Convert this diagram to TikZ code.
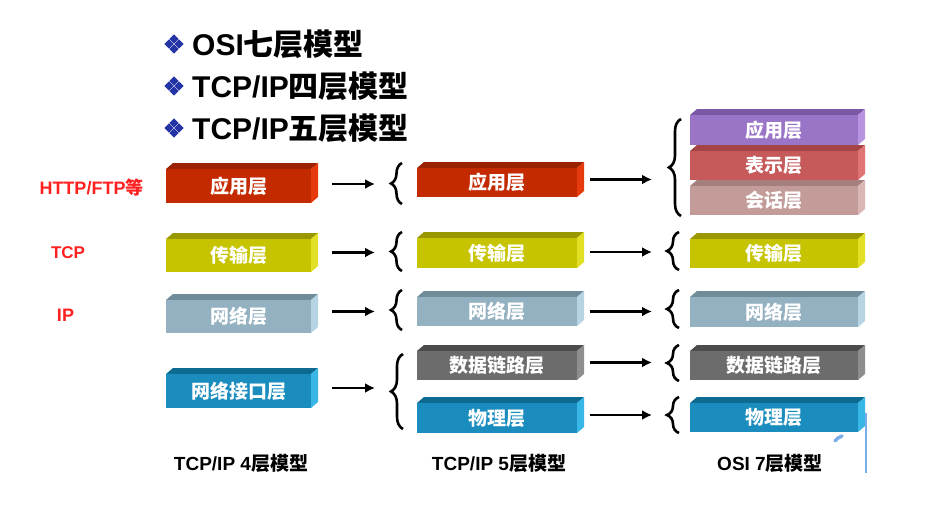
\documentclass[tikz,border=0pt]{standalone}
\usepackage{fontspec}
\setmainfont{Liberation Sans}
\newfontfamily\cjk{Noto Sans CJK SC}
\usetikzlibrary{decorations.pathreplacing,arrows.meta}

\definecolor{appF}{HTML}{C42A00}\definecolor{appT}{HTML}{9A2200}\definecolor{appS}{HTML}{E63A0C}
\definecolor{trF}{HTML}{C6C400}\definecolor{trT}{HTML}{9A9800}\definecolor{trS}{HTML}{E2E024}
\definecolor{netF}{HTML}{93B1C1}\definecolor{netT}{HTML}{6F8C9A}\definecolor{netS}{HTML}{B6D4E4}
\definecolor{ifF}{HTML}{1A8DBE}\definecolor{ifT}{HTML}{0D6A90}\definecolor{ifS}{HTML}{38B6E6}
\definecolor{dlF}{HTML}{6C6C6C}\definecolor{dlT}{HTML}{4C4C4C}\definecolor{dlS}{HTML}{8E8E8E}
\definecolor{osiF}{HTML}{9A74C6}\definecolor{osiT}{HTML}{7A58A6}\definecolor{osiS}{HTML}{B894E0}
\definecolor{preF}{HTML}{C65A5A}\definecolor{preT}{HTML}{A44444}\definecolor{preS}{HTML}{E07474}
\definecolor{sesF}{HTML}{C39C9A}\definecolor{sesT}{HTML}{A57F7D}\definecolor{sesS}{HTML}{DAB6B4}
\definecolor{redlab}{HTML}{FF2020}
\definecolor{bulletblue}{HTML}{2434A4}
\definecolor{strayblue}{HTML}{7AAEEA}

% name, x-left, x-right, y-top (front), y-bottom, colour prefix, text
\newcommand\layerbar[7]{%
  \fill[#6T] (#2,#4) -- (#2+7,#4-6) -- (#3+7,#4-6) -- (#3,#4) -- cycle;
  \fill[#6S] (#3,#4) -- (#3+7,#4-6) -- (#3+7,#5-6) -- (#3,#5) -- cycle;
  \node[barbox, fill=#6F, minimum width={#3-#2}, minimum height={#5-#4}]
    (#1) at ({(#2+#3)/2},{(#4+#5)/2}) {#7};%
}
\newcommand\diamondbullet[2]{%
  \begin{scope}[shift={(#1,#2)}]
    \foreach \dx/\dy in {-5/0,5/0,0/-5,0/5}
      \fill[bulletblue] (\dx-4.6,\dy) -- (\dx,\dy-4.6) -- (\dx+4.6,\dy) -- (\dx,\dy+4.6) -- cycle;
  \end{scope}%
}
\newcommand\layerbrace[4]{% x, y-bottom, y-top, amplitude
  \draw[bracestyle, decoration={brace, amplitude=#4}] (#1,#2) -- (#1,#3);%
}

\begin{document}
\begin{tikzpicture}[x=1pt, y=-1pt,
  barbox/.style={inner sep=0pt, outer sep=0pt, text=white,
    font=\cjk\bfseries\fontsize{19}{22}\selectfont},
  titletext/.style={anchor=west, inner sep=0pt, text=black,
    font=\bfseries\fontsize{30}{36}\selectfont},
  redtext/.style={inner sep=0pt, text=redlab,
    font=\bfseries\fontsize{18}{22}\selectfont},
  captiontext/.style={inner sep=0pt, text=black,
    font=\bfseries\fontsize{19}{23}\selectfont},
  arr/.style={line width=2.8pt, -{Latex[length=10pt,width=10pt]}},
  bracestyle/.style={line width=2.6pt, decorate}]

\fill[white] (0,0) rectangle (939,506);
\useasboundingbox (0,0) rectangle (939,506);

% titles
\diamondbullet{174}{44}
\diamondbullet{174}{86}
\diamondbullet{174}{128}
\node[titletext] (t1) at (192,44) {OSI{\cjk 七层模型}};
\node[titletext] (t2) at (192,86) {TCP/IP{\cjk 四层模型}};
\node[titletext] (t3) at (192,128) {TCP/IP{\cjk 五层模型}};

% red protocol labels
\node[redtext] (lhttp) at (91.5,188) {HTTP/FTP{\cjk 等}};
\node[redtext, font=\bfseries\fontsize{17}{21}\selectfont] (ltcp) at (68,253) {TCP};
\node[redtext] (lip) at (65.5,315) {IP};

% column 1: TCP/IP 4 layers
\layerbar{c1app}{166}{311}{169}{203}{app}{应用层}
\layerbar{c1tr}{166}{311}{239}{272}{tr}{传输层}
\layerbar{c1net}{166}{311}{300}{333}{net}{网络层}
\layerbar{c1if}{166}{311}{374}{408}{if}{网络接口层}

% column 2: TCP/IP 5 layers
\layerbar{c2app}{417}{577}{168}{197}{app}{应用层}
\layerbar{c2tr}{417}{577}{238}{268}{tr}{传输层}
\layerbar{c2net}{417}{577}{297}{326}{net}{网络层}
\layerbar{c2dl}{417}{577}{351}{380}{dl}{数据链路层}
\layerbar{c2ph}{417}{577}{403}{433}{if}{物理层}

% column 3: OSI 7 layers
\layerbar{c3ses}{690}{858}{186}{215}{ses}{会话层}
\layerbar{c3pre}{690}{858}{151}{180}{pre}{表示层}
\layerbar{c3app}{690}{858}{115}{145}{osi}{应用层}
\layerbar{c3tr}{690}{858}{239}{268}{tr}{传输层}
\layerbar{c3net}{690}{858}{297}{327}{net}{网络层}
\layerbar{c3dl}{690}{858}{351}{380}{dl}{数据链路层}
\layerbar{c3ph}{690}{858}{403}{432}{if}{物理层}

% braces before column 2
\layerbrace{402}{204}{163}{11pt}
\layerbrace{402}{271}{232}{11pt}
\layerbrace{402}{330}{290}{11pt}
\layerbrace{403}{429}{354}{12pt}

% braces before column 3
\layerbrace{681}{216}{119}{12pt}
\layerbrace{679}{270}{232}{12pt}
\layerbrace{679}{328}{290}{12pt}
\layerbrace{679}{381}{345}{12pt}
\layerbrace{679}{433}{397}{12pt}

% arrows column 1 -> column 2
\draw[arr] ([shift={(21pt,2pt)}]c1app.east) -- ([shift={(-42pt,2pt)}]c1app.east -| c2app.west);
\draw[arr] ([shift={(21pt,3pt)}]c1tr.east) -- ([shift={(-42pt,3pt)}]c1tr.east -| c2tr.west);
\draw[arr] ([shift={(21pt,5pt)}]c1net.east) -- ([shift={(-42pt,5pt)}]c1net.east -| c2net.west);
\draw[arr] ([shift={(21pt,3pt)}]c1if.east) -- ([shift={(-42pt,3pt)}]c1if.east -| c2dl.west);

% arrows column 2 -> column 3
\draw[arr] ([shift={(13pt,3pt)}]c2app.east) -- ([shift={(-38pt,3pt)}]c2app.east -| c3app.west);
\draw[arr] ([shift={(13pt,1pt)}]c2tr.east) -- ([shift={(-38pt,1pt)}]c2tr.east -| c3tr.west);
\draw[arr] ([shift={(13pt,0pt)}]c2net.east) -- ([shift={(-38pt,0pt)}]c2net.east -| c3net.west);
\draw[arr] ([shift={(13pt,3pt)}]c2dl.east) -- ([shift={(-38pt,3pt)}]c2dl.east -| c3dl.west);
\draw[arr] ([shift={(13pt,3pt)}]c2ph.east) -- ([shift={(-38pt,3pt)}]c2ph.east -| c3ph.west);

% captions
\node[captiontext] (cap1) at (241,463) {TCP/IP 4{\cjk 层模型}};
\node[captiontext] (cap2) at (499,463) {TCP/IP 5{\cjk 层模型}};
\node[captiontext] (cap3) at (770,463) {OSI 7{\cjk 层模型}};

% stray blue strokes
\draw[strayblue, line width=2pt] (866,413) -- (866,473);
\draw[strayblue, line width=3.5pt, line cap=round] (835,441) -- (838,438) -- (842,436);
\end{tikzpicture}
\end{document}
